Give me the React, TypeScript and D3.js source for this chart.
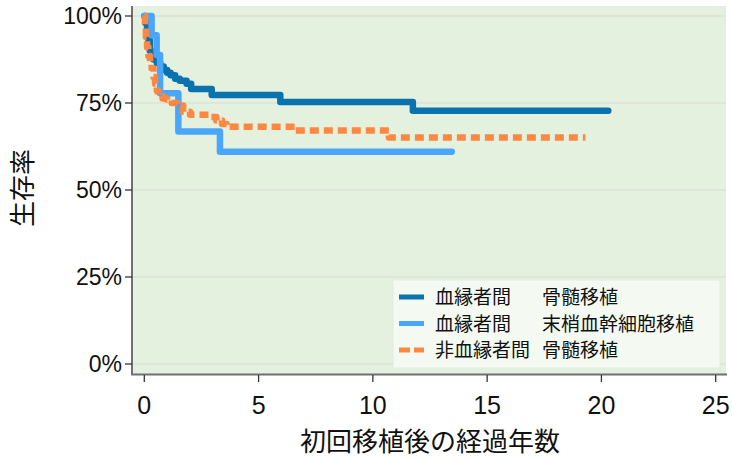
import React from "react";
import * as d3 from "d3";

const xTicks = [0, 5, 10, 15, 20, 25];
const yTicks = [0, 25, 50, 75, 100];

const seriesNames = ["血縁者間\u3000骨髄移植", "血縁者間\u3000末梢血幹細胞移植", "非血縁者間 骨髄移植"];
const legendLeft = ["血縁者間", "血縁者間", "非血縁者間"];
const legendRight = ["骨髄移植", "末梢血幹細胞移植", "骨髄移植"];

const relBmTime = [0, 0.05, 0.12, 0.18, 0.24, 0.3, 0.4, 0.55, 0.7, 0.85, 1.0, 1.15, 1.35, 1.55, 1.85, 2.05, 2.95, 5.95, 11.75, 20.3];
const relBmSurv = [100, 98, 96, 93, 90, 88.5, 87.5, 86.5, 85.5, 84.5, 83.7, 83, 82, 81.4, 80.5, 79, 77.3, 75.3, 72.8, 72.8];

const relPbTime = [0, 0.32, 0.54, 0.69, 1.49, 3.31, 13.45];
const relPbSurv = [100, 94.5, 88.8, 77.8, 66.8, 61, 61];

const unrelBmTime = [0, 0.03, 0.07, 0.12, 0.18, 0.25, 0.32, 0.4, 0.47, 0.55, 0.62, 0.8, 1.0, 1.2, 1.45, 1.7, 2.0, 2.9, 3.15, 3.4, 3.6, 6.6, 10.7, 19.3];
const unrelBmSurv = [100, 97, 94, 91, 88.5, 86.5, 85, 82.5, 80.5, 78.5, 77, 76.3, 75.9, 75, 74.3, 72.5, 71.6, 71, 70, 69, 68.2, 67.1, 65.1, 65.1];

const colors = ["#0a72ae", "#4aa6fb", "#fe8741"];

export default function App() {
  const W = 732, H = 459;
  const plot = { left: 133, right: 726, top: 6, bottom: 374 };
  const x = d3.scaleLinear().domain([0, 25]).range([144.3, 715.7]);
  const y = d3.scaleLinear().domain([0, 100]).range([364, 16]);
  const line = d3
    .line<[number, number]>()
    .x((d) => x(d[0]))
    .y((d) => y(d[1]))
    .curve(d3.curveStepAfter);

  const series = [
    { t: relBmTime, s: relBmSurv, dash: undefined },
    { t: relPbTime, s: relPbSurv, dash: undefined },
    { t: unrelBmTime, s: unrelBmSurv, dash: "9,5" },
  ];

  const tickFont = "'Liberation Sans', Arial, sans-serif";
  const cjkFont = "'Noto Sans CJK JP', sans-serif";

  return (
    <svg width={W} height={H} style={{ position: "absolute", left: 0, top: 0 }}>
      <rect x={0} y={0} width={W} height={H} fill="#ffffff" />
      <rect x={plot.left} y={plot.top} width={plot.right - plot.left} height={plot.bottom - plot.top} fill="#e4f1de" />
      {yTicks.map((v) => (
        <line key={"g" + v} x1={plot.left} x2={plot.right} y1={y(v)} y2={y(v)} stroke="#d8dcd6" strokeWidth={1.2} />
      ))}
      {series.map((sr, i) => (
        <path
          key={i}
          d={line(sr.t.map((t, j) => [t, sr.s[j]] as [number, number])) || ""}
          fill="none"
          stroke={colors[i]}
          strokeWidth={6.5}
          strokeLinejoin="round"
          strokeLinecap={sr.dash ? "butt" : "round"}
          strokeDasharray={sr.dash}
        >
          <title>{seriesNames[i]}</title>
        </path>
      ))}
      {/* axes */}
      <line x1={132} x2={132} y1={plot.top} y2={plot.bottom + 1} stroke="#707070" strokeWidth={2} />
      <line x1={131} x2={727} y1={374.5} y2={374.5} stroke="#707070" strokeWidth={2} />
      {yTicks.map((v) => (
        <g key={"y" + v}>
          <line x1={125} x2={132} y1={y(v)} y2={y(v)} stroke="#333" strokeWidth={1.3} />
          <text x={122} y={y(v) + 8} textAnchor="end" fontFamily={tickFont} fontSize={23} fill="#111">
            {v}%
          </text>
        </g>
      ))}
      {xTicks.map((v) => (
        <g key={"x" + v}>
          <line x1={x(v)} x2={x(v)} y1={375} y2={382} stroke="#333" strokeWidth={1.3} />
          <text x={x(v)} y={414} textAnchor="middle" fontFamily={tickFont} fontSize={25} fill="#111">
            {v}
          </text>
        </g>
      ))}
      <text x={430} y={451} textAnchor="middle" fontFamily={cjkFont} fontSize={26} fill="#111">
        初回移植後の経過年数
      </text>
      <text transform="translate(32,188) rotate(-90)" textAnchor="middle" fontFamily={cjkFont} fontSize={26} fill="#111">
        生存率
      </text>
      {/* legend */}
      <rect x={393} y={280} width={327} height={88} fill="#f4faf2" stroke="#e2ebdf" strokeWidth={1} />
      {legendLeft.map((l, i) => {
        const cy = 297 + i * 26.5;
        return (
          <g key={"l" + i}>
            <line x1={399} x2={424} y1={cy} y2={cy} stroke={colors[i]} strokeWidth={5} strokeDasharray={i === 2 ? "11,4" : undefined} />
            <text x={435} y={cy + 7} fontFamily={cjkFont} fontSize={19} fill="#111">{l}</text>
            <text x={542} y={cy + 7} fontFamily={cjkFont} fontSize={19} fill="#111">{legendRight[i]}</text>
          </g>
        );
      })}
    </svg>
  );
}
